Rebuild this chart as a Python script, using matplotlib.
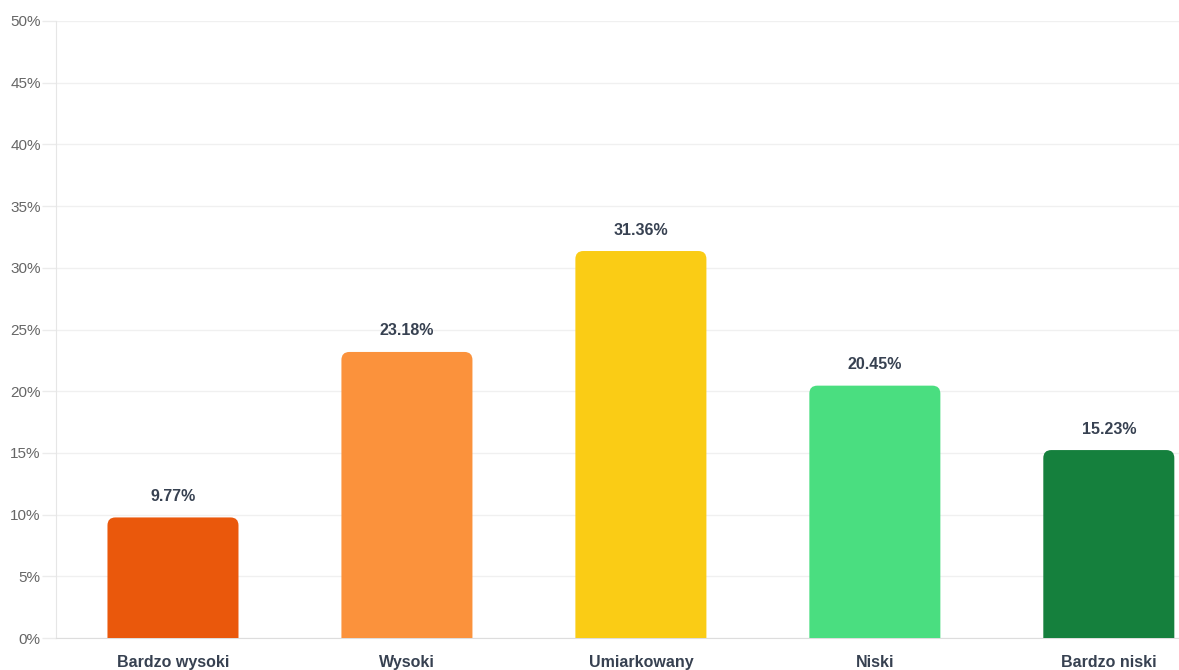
import matplotlib
matplotlib.use("Agg")
import matplotlib.pyplot as plt
from matplotlib.path import Path
from matplotlib.patches import PathPatch

plt.rcParams["font.family"] = ["Liberation Sans", "DejaVu Sans"]

categories = ["Bardzo wysoki", "Wysoki", "Umiarkowany", "Niski", "Bardzo niski"]
values = [9.77, 23.18, 31.36, 20.45, 15.23]
colors = ["#EA580C", "#FB923C", "#FACC15", "#4ADE80", "#15803D"]
yticks = [0, 5, 10, 15, 20, 25, 30, 35, 40, 45, 50]


def top_rounded_bar(x0, w, h, rx, ry):
    # rectangle with only the top corners rounded
    verts = [(x0, 0), (x0, h - ry), (x0, h), (x0 + rx, h),
             (x0 + w - rx, h), (x0 + w, h), (x0 + w, h - ry),
             (x0 + w, 0), (x0, 0)]
    codes = [Path.MOVETO, Path.LINETO, Path.CURVE3, Path.CURVE3,
             Path.LINETO, Path.CURVE3, Path.CURVE3,
             Path.LINETO, Path.CLOSEPOLY]
    return Path(verts, codes)


fig = plt.figure(figsize=(11.79, 6.70), dpi=100)
ax = fig.add_axes([56 / 1179, 32 / 670, 1 - 56 / 1179, 617 / 670])

# the original chart is cut off on the right edge
ax.set_xlim(-0.5, 4.3)
ax.set_ylim(0, 50)

bar_w = 0.56
rx = 8 / 234
ry = 8 / 12.34
for i, (v, c) in enumerate(zip(values, colors)):
    p = top_rounded_bar(i - bar_w / 2, bar_w, v, rx, ry)
    ax.add_patch(PathPatch(p, facecolor=c, edgecolor="none", zorder=3))
    ax.text(i, v + 1.7, "%.2f%%" % v, ha="center", va="center",
            fontsize=11.5, fontweight="bold", color="#374151")

ax.set_yticks(yticks)
ax.set_yticklabels(["%d%%" % t for t in yticks])
ax.set_xticks(range(len(categories)))
ax.set_xticklabels(categories, fontsize=11.5, fontweight="bold", color="#374151")
ax.tick_params(axis="y", colors="#ebebeb", labelcolor="#666666",
               labelsize=11, length=10, width=1, pad=1)
ax.tick_params(axis="x", length=0, pad=12)

ax.grid(axis="y", color="#f0f0f0", linewidth=1, zorder=0)
for s in ["top", "right"]:
    ax.spines[s].set_visible(False)
ax.spines["left"].set_color("#e6e6e6")
ax.spines["bottom"].set_color("#dddddd")

fig.savefig("out.png", dpi=100)
